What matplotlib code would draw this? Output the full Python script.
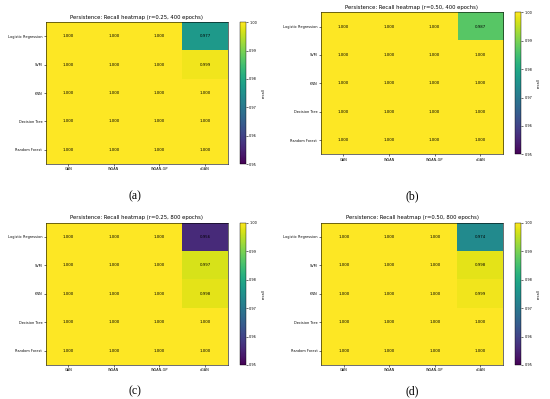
"""Persistence recall heatmaps, four panels (a)-(d)."""

import numpy as np
import matplotlib
matplotlib.use("Agg")
import matplotlib.pyplot as plt

MODELS = ["Logistic Regression", "SVM", "KNN", "Decision Tree", "Random Forest"]
GANS = ["GAN", "WGAN", "WGAN-GP", "cGAN"]

recall_r025_400 = [
    [1.000, 1.000, 1.000, 0.977],
    [1.000, 1.000, 1.000, 0.999],
    [1.000, 1.000, 1.000, 1.000],
    [1.000, 1.000, 1.000, 1.000],
    [1.000, 1.000, 1.000, 1.000],
]
recall_r050_400 = [
    [1.000, 1.000, 1.000, 0.987],
    [1.000, 1.000, 1.000, 1.000],
    [1.000, 1.000, 1.000, 1.000],
    [1.000, 1.000, 1.000, 1.000],
    [1.000, 1.000, 1.000, 1.000],
]
recall_r025_800 = [
    [1.000, 1.000, 1.000, 0.956],
    [1.000, 1.000, 1.000, 0.997],
    [1.000, 1.000, 1.000, 0.998],
    [1.000, 1.000, 1.000, 1.000],
    [1.000, 1.000, 1.000, 1.000],
]
recall_r050_800 = [
    [1.000, 1.000, 1.000, 0.974],
    [1.000, 1.000, 1.000, 0.998],
    [1.000, 1.000, 1.000, 0.999],
    [1.000, 1.000, 1.000, 1.000],
    [1.000, 1.000, 1.000, 1.000],
]

PANELS = [
    ("Persistence: Recall heatmap (r=0.25, 400 epochs)", recall_r025_400, "(a)"),
    ("Persistence: Recall heatmap (r=0.50, 400 epochs)", recall_r050_400, "(b)"),
    ("Persistence: Recall heatmap (r=0.25, 800 epochs)", recall_r025_800, "(c)"),
    ("Persistence: Recall heatmap (r=0.50, 800 epochs)", recall_r050_800, "(d)"),
]

# pixel boxes (left, top, right, bottom) of each heatmap, and label centre
BOXES = [
    ((45.7, 22.3, 227.7, 164.0), (135, 196)),
    ((320.7, 12.3, 503.0, 154.3), (412, 196)),
    ((45.7, 222.7, 227.7, 365.0), (135, 391)),
    ((321.0, 222.7, 503.0, 365.0), (412, 391)),
]

W, H = 550, 399
fig = plt.figure(figsize=(W / 100, H / 100), dpi=100)


def frac(l, t, r, b):
    return [l / W, 1 - b / H, (r - l) / W, (b - t) / H]


for (title, data, tag), ((l, t, r, b), (lx, ly)) in zip(PANELS, BOXES):
    arr = np.array(data)
    ax = fig.add_axes(frac(l, t, r, b))
    im = ax.imshow(arr, cmap="viridis", vmin=0.95, vmax=1.0, aspect="auto")
    for i in range(arr.shape[0]):
        for j in range(arr.shape[1]):
            ax.text(j, i, f"{arr[i, j]:.3f}", ha="center", va="center",
                    fontsize=2.8, color="black")
    ax.set_xticks(range(len(GANS)))
    ax.set_xticklabels(GANS)
    ax.set_yticks(range(len(MODELS)))
    ax.set_yticklabels(MODELS)
    ax.tick_params(labelsize=2.5, length=1.5, width=0.4, pad=1)
    for s in ax.spines.values():
        s.set_linewidth(0.4)
    ax.set_title(title, fontsize=3.8, pad=2.5)

    cax = fig.add_axes(frac(r + 12, t, r + 18, b))
    cb = fig.colorbar(im, cax=cax)
    cb.set_ticks([0.95, 0.96, 0.97, 0.98, 0.99, 1.00])
    cb.ax.tick_params(labelsize=2.5, length=1.5, width=0.4, pad=1)
    cb.outline.set_linewidth(0.3)
    cb.set_label("recall", fontsize=2.5, labelpad=3)

    fig.text(lx / W, 1 - ly / H, tag, ha="center", va="center",
             fontsize=8.5, family="Liberation Serif")

fig.savefig("out.png", dpi=100)
